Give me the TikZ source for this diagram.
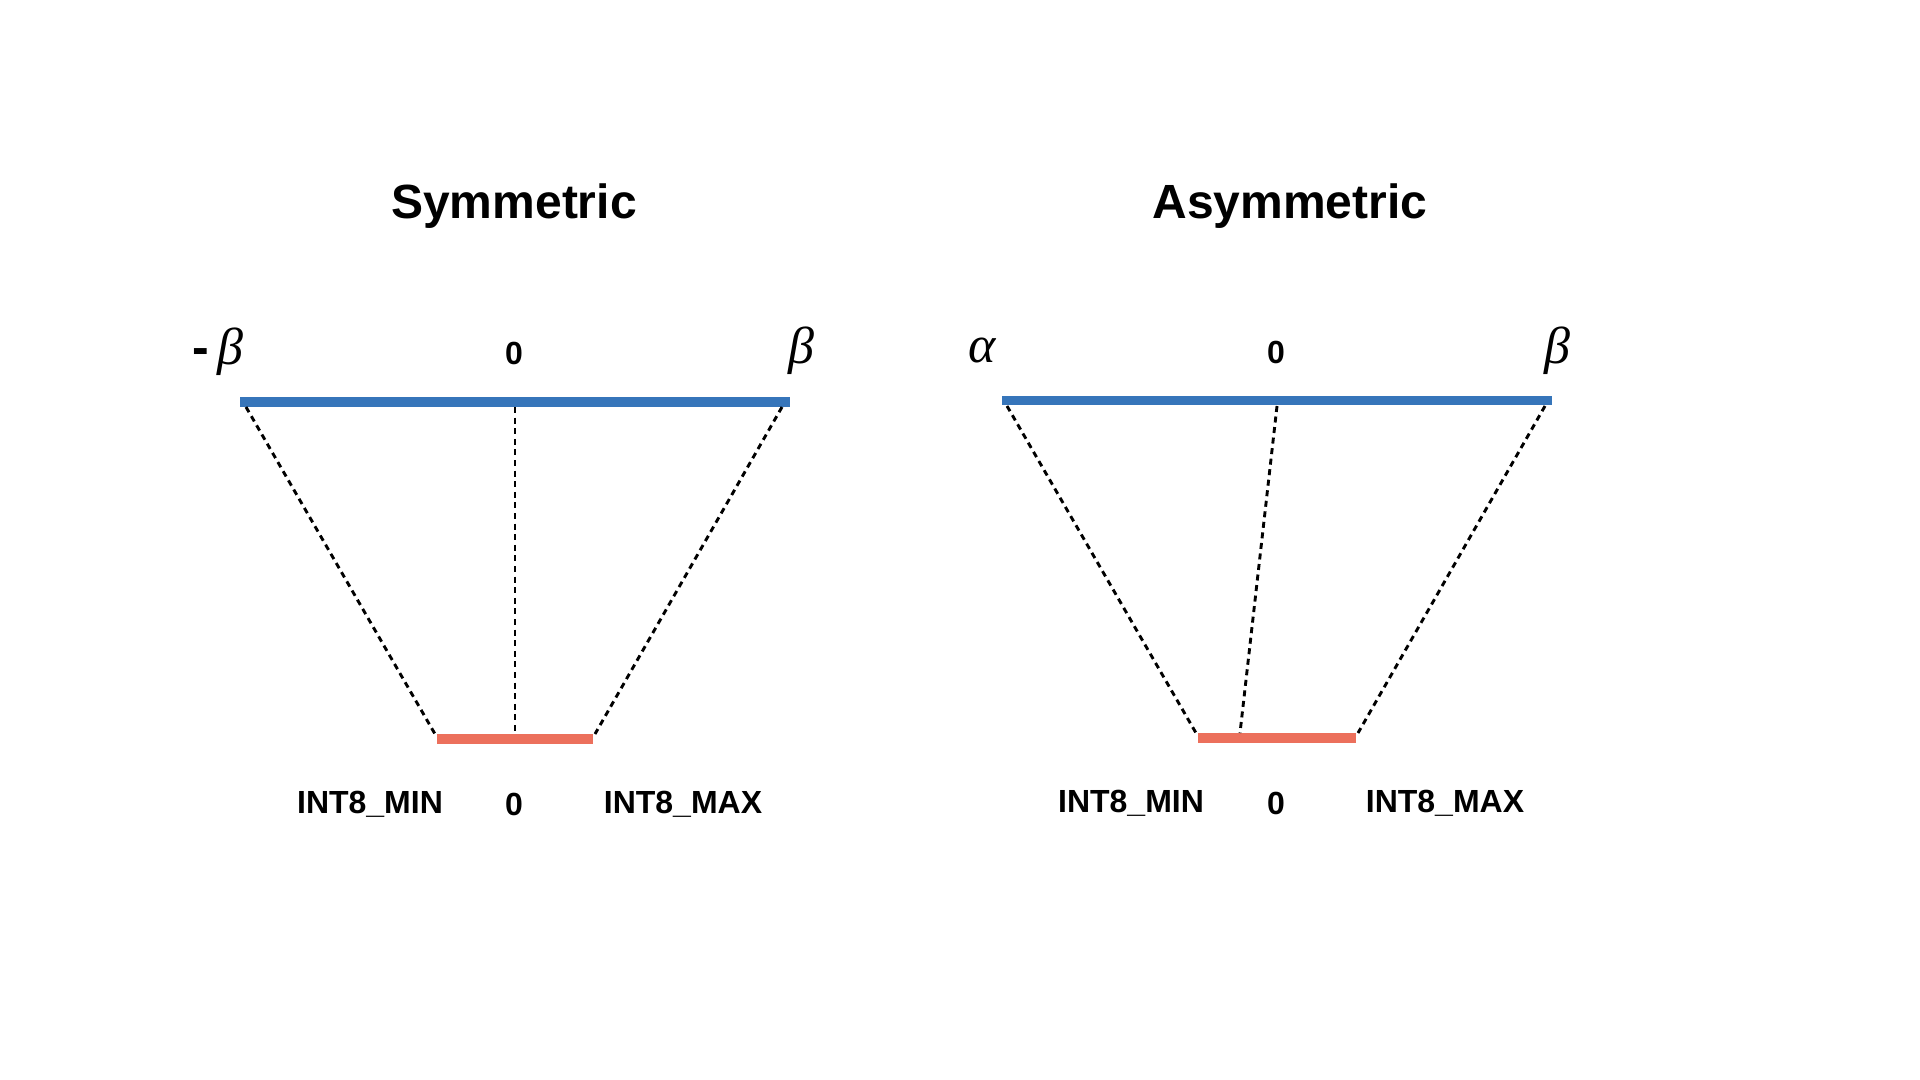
\documentclass[tikz,border=0pt]{standalone}
\usepackage{fontspec}
\setmainfont{Liberation Sans}
\newfontfamily\grkfont{Liberation Serif}
\definecolor{barblue}{RGB}{54,117,186}
\definecolor{barred}{RGB}{236,112,92}
\begin{document}
\begin{tikzpicture}[x=0.5pt,y=-0.5pt,
  title/.style={font=\fontsize{24}{28}\selectfont\bfseries},
  lbl/.style={font=\fontsize{16}{19}\selectfont\bfseries},
  grk/.style={font=\fontsize{26}{30}\selectfont\grkfont\itshape},
  realbar/.style={line width=4.75pt,barblue,line cap=butt},
  intbar/.style={line width=5pt,barred,line cap=butt},
  maplink/.style={line width=1.45pt,black,dash pattern=on 3pt off 2.3pt}]
\useasboundingbox[fill=white] (0,0) rectangle (1920,1080);

% ---------- Symmetric ----------
\node[title] (t1) at (514,206) {Symmetric};
\node[grk] (lmb) at (218,352) {{\fontsize{25}{30}\selectfont\normalfont\bfseries -}\,β};
\node[lbl] (lz) at (514,353) {0};
\node[grk] (lb) at (801,351) {β};
\coordinate (b1l) at (240,402);
\coordinate (b1r) at (790,402);
\coordinate (r1l) at (437,739);
\coordinate (r1r) at (593,739);
\draw[realbar] (b1l) -- (b1r);
\draw[intbar] (r1l) -- (r1r);
\coordinate (d1a) at (246,407);
\coordinate (d1b) at (435,734);
\coordinate (d2a) at (515,407);
\coordinate (d2b) at (515,734);
\coordinate (d3a) at (782,407);
\coordinate (d3b) at (595,734);
\draw[maplink] (d1a) -- (d1b);
\draw[maplink] (d2a) -- (d2b);
\draw[maplink] (d3a) -- (d3b);
\node[lbl] (lmin) at (370,804) {INT8\_MIN};
\node[lbl] (lz2) at (514,804) {0};
\node[lbl] (lmax) at (683,804) {INT8\_MAX};

% ---------- Asymmetric ----------
\node[title] (t2) at (1290,206) {Asymmetric};
\node[grk] (ra) at (982,351) {α};
\node[lbl] (rz) at (1276,352) {0};
\node[grk] (rb) at (1557,351) {β};
\coordinate (b2l) at (1002,400.5);
\coordinate (b2r) at (1552,400.5);
\coordinate (r2l) at (1198,737.5);
\coordinate (r2r) at (1356,737.5);
\draw[realbar] (b2l) -- (b2r);
\draw[intbar] (r2l) -- (r2r);
\coordinate (e1a) at (1007,406);
\coordinate (e1b) at (1196,733);
\coordinate (e2a) at (1277,406);
\coordinate (e2b) at (1240,733);
\coordinate (e3a) at (1545,406);
\coordinate (e3b) at (1358,733);
\draw[maplink] (e1a) -- (e1b);
\draw[maplink] (e2a) -- (e2b);
\draw[maplink] (e3a) -- (e3b);
\node[lbl] (rmin) at (1131,803) {INT8\_MIN};
\node[lbl] (rz2) at (1276,803) {0};
\node[lbl] (rmax) at (1445,803) {INT8\_MAX};
\end{tikzpicture}
\end{document}
